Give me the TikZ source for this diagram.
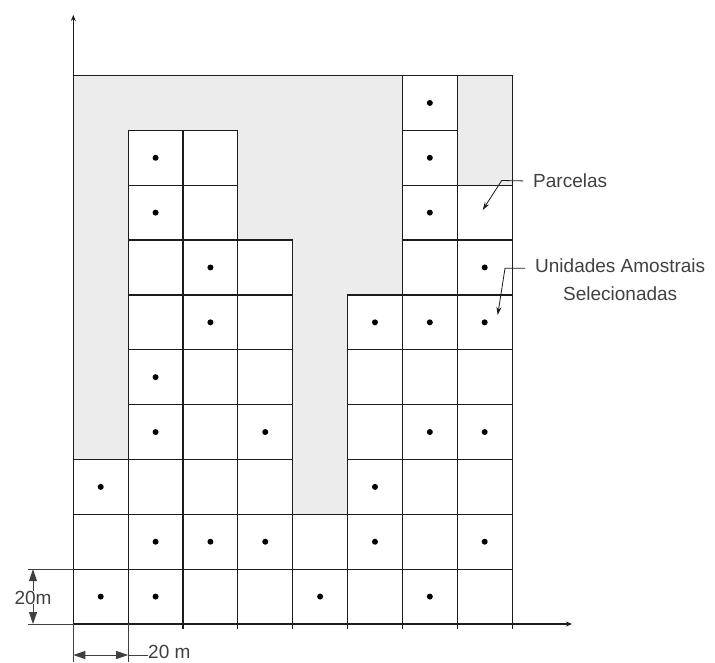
\documentclass[tikz,border=0pt]{standalone}
\usepackage{fontspec}
\setmainfont{Liberation Sans}
\usetikzlibrary{arrows.meta}
\definecolor{areagray}{RGB}{236,236,236}
\definecolor{inkline}{RGB}{28,28,28}
\definecolor{dimgray}{RGB}{64,64,64}

\begin{document}
\begin{tikzpicture}[x=1pt,y=-1pt,
  cell/.style={draw=inkline, fill=white, line width=1.2pt,
    minimum width=54.85pt, minimum height=54.85pt, inner sep=0pt, outer sep=0pt},
  lbl/.style={font=\fontsize{19}{27.3}\selectfont, text=dimgray, inner sep=0pt},
  leader/.style={draw=inkline, line width=0.8pt, -{Stealth[length=8pt,width=5pt]}},
  dimline/.style={draw=dimgray, line width=1pt},
  dimtip/.style={dimline, -{Triangle[length=12pt,width=8pt]}},
  dimboth/.style={dimline, {Triangle[length=12pt,width=8pt]}-{Triangle[length=12pt,width=8pt]}},
  axis/.style={draw=inkline, line width=1.2pt, -{Stealth[length=6pt,width=5pt]}}
]
\useasboundingbox (0,0) rectangle (715,662);

% surveyed area
\fill[areagray] (73.3,75.5) rectangle (512.7,624);
\draw[inkline, line width=1.2pt] (73.3,75.5) -- (512.7,75.5) -- (512.7,624);

% plots: column / row (from the bottom) / sampled
\foreach \c/\r/\d in {
  6/9/1,
  1/8/1, 2/8/0, 6/8/1,
  1/7/1, 2/7/0, 6/7/1, 7/7/0,
  1/6/0, 2/6/1, 3/6/0, 6/6/0, 7/6/1,
  1/5/0, 2/5/1, 3/5/0, 5/5/1, 6/5/1, 7/5/1,
  1/4/1, 2/4/0, 3/4/0, 5/4/0, 6/4/0, 7/4/0,
  1/3/1, 2/3/0, 3/3/1, 5/3/0, 6/3/1, 7/3/1,
  0/2/1, 1/2/0, 2/2/0, 3/2/0, 5/2/1, 6/2/0, 7/2/0,
  0/1/0, 1/1/1, 2/1/1, 3/1/1, 4/1/0, 5/1/1, 6/1/0, 7/1/1,
  0/0/1, 1/0/1, 2/0/0, 3/0/0, 4/0/1, 5/0/0, 6/0/1, 7/0/0} {
  \node[cell] (c\c-\r) at ({73.3+54.85*(\c+0.5)}, {624-54.85*(\r+0.5)}) {};
  \ifnum\d=1 \fill[black] (c\c-\r.center) circle (3pt); \fi
}

% ticks below the x axis
\foreach \c in {0,...,8}
  \draw[inkline, line width=1.2pt] ({73.3+54.85*\c},624) -- ({73.3+54.85*\c},629);

% axes
\coordinate (O) at (73.3,624);
\coordinate (ytop) at (73.3,15);
\coordinate (xend) at (572,624);
\draw[axis] (O) -- (ytop);
\draw[axis] (O) -- (xend);

% vertical dimension
\coordinate (vextA) at (28,569.15);
\coordinate (vextB) at (28,624);
\draw[dimline] (vextA) -- (73.3,569.15);
\draw[dimline] (vextB) -- (O);
\node[lbl] (dimv) at (33,597.5) {20m};
\coordinate (vtop) at (33,569.15);
\coordinate (vbot) at (33,624);
\draw[dimtip] (dimv.north) -- (vtop);
\draw[dimtip] (dimv.south) -- (vbot);

% horizontal dimension
\coordinate (hextA) at (73.3,662);
\coordinate (hextB) at (128.15,662);
\draw[dimline] (O) -- (hextA);
\draw[dimline] (128.15,624) -- (hextB);
\coordinate (hl) at (73.3,655);
\coordinate (hr) at (128.15,655);
\node[lbl, anchor=west] (dimh) at (148,651.5) {20 m};
\draw[dimboth] (hl) -- (hr);
\draw[dimline] (hr) -- (hr -| dimh.west);

% labels with leaders
\node[lbl, anchor=base west] (parc) at (533,187.7) {Parcelas};
\coordinate (pk) at (501.7,180.5);
\coordinate (ptip) at (482.7,210);
\draw[leader] ([xshift=-10pt]parc.west) -- (pk) -- (ptip);

\node[lbl, anchor=north west, align=center] (unid) at (535,258.8)
  {Unidades Amostrais\\Selecionadas};
\coordinate (uk) at (505,268.3);
\coordinate (utip) at (497.7,315);
\draw[leader] ([shift={(-10,9.5)}]unid.north west) -- (uk) -- (utip);
\end{tikzpicture}
\end{document}
